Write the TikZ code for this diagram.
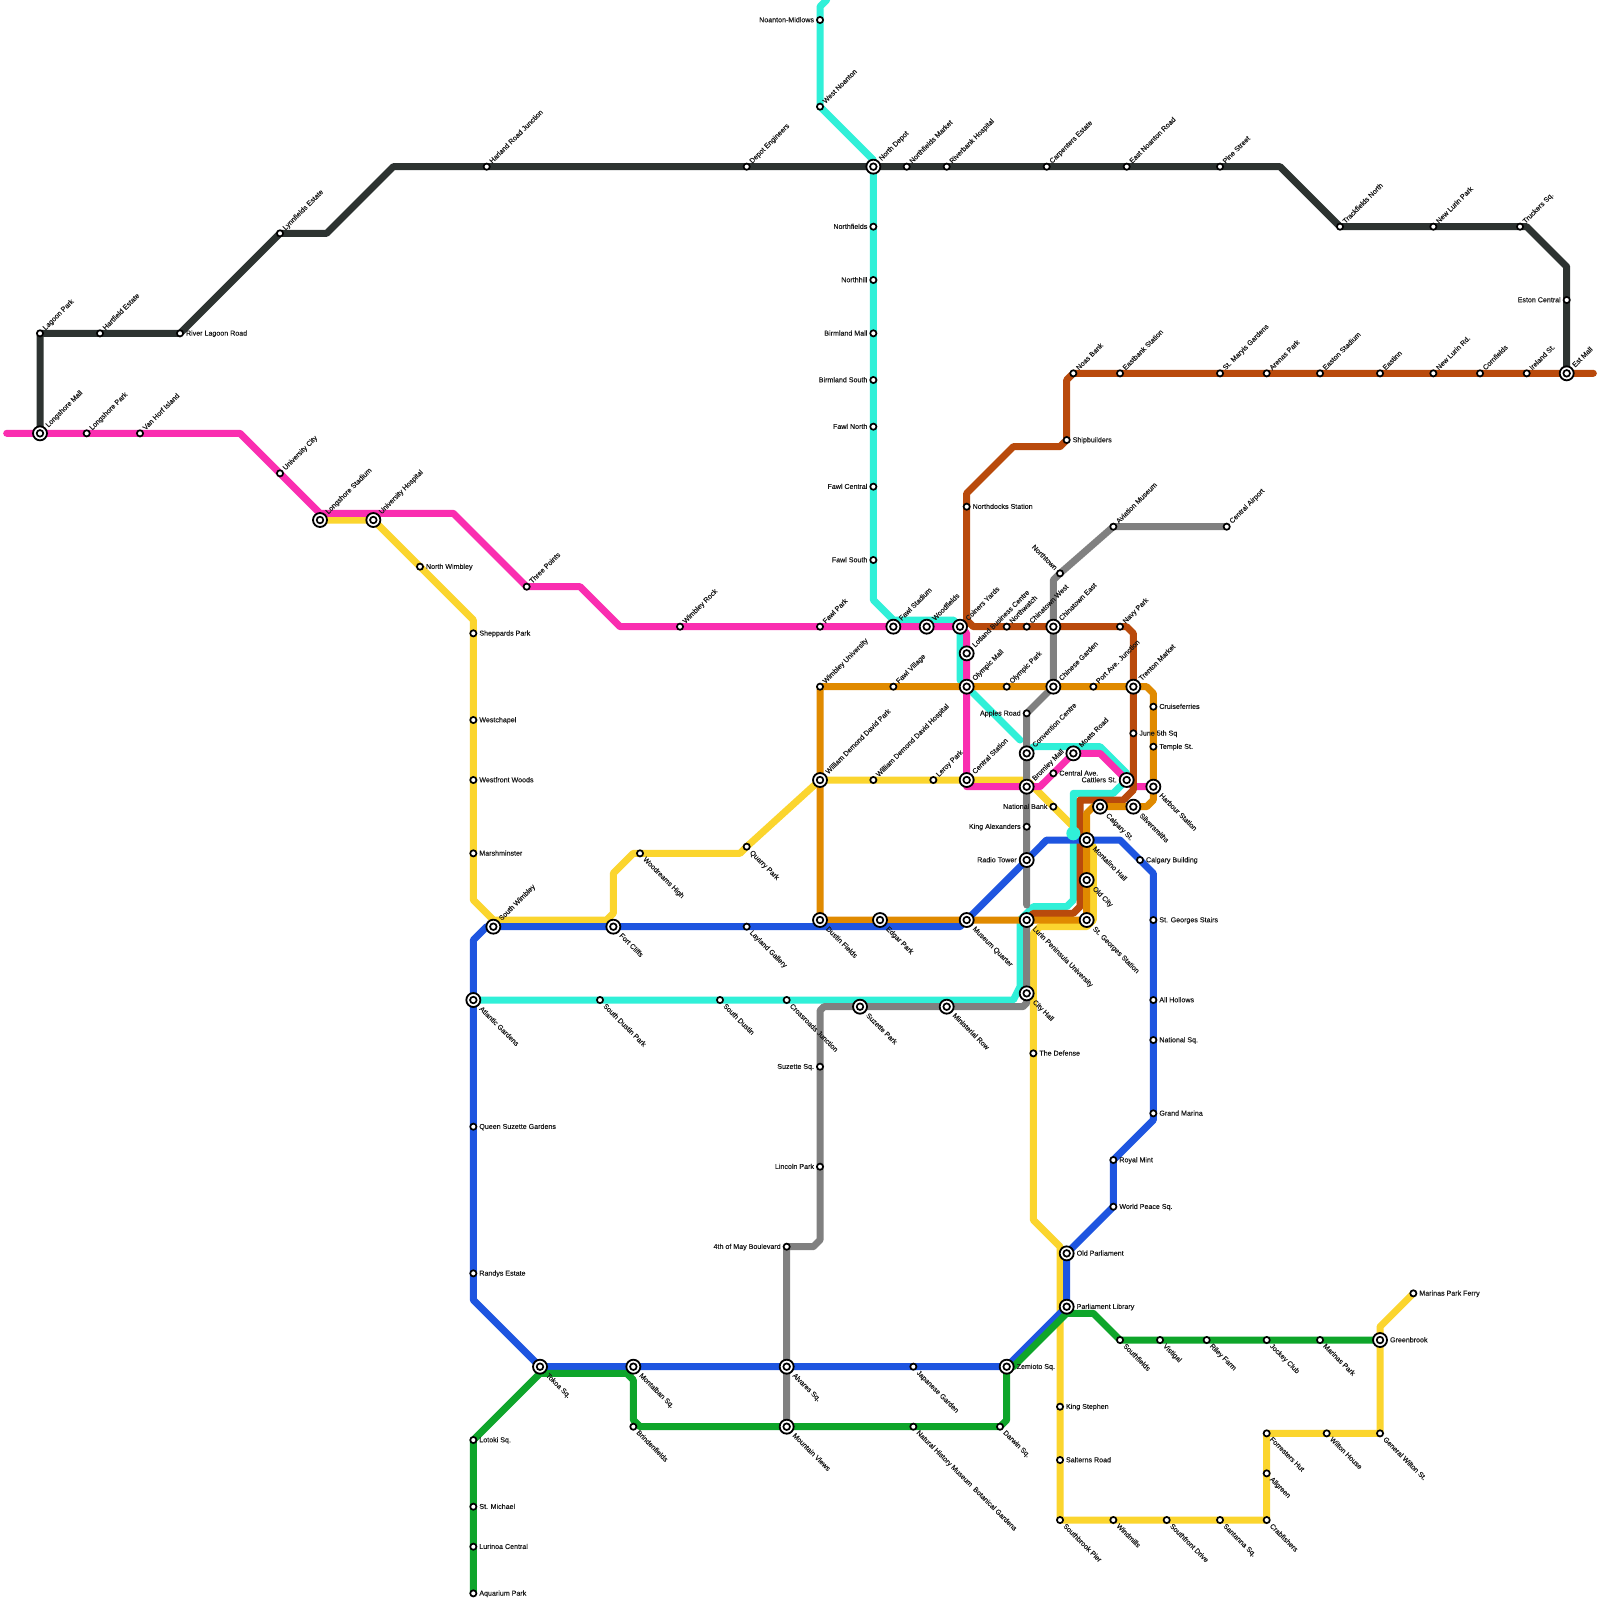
\documentclass[tikz,border=0pt]{standalone}
\usepackage{fontspec}
\setmainfont{Liberation Sans}
\newfontfamily\lblfont[FakeBold=0.15]{Liberation Sans}
\usetikzlibrary{backgrounds}
\definecolor{cBlack}{HTML}{2D3331}
\definecolor{cPink}{HTML}{FA2EB0}
\definecolor{cCyan}{HTML}{30F0D8}
\definecolor{cYellow}{HTML}{FBD52E}
\definecolor{cBlue}{HTML}{1E55E0}
\definecolor{cGreen}{HTML}{0EA52A}
\definecolor{cGrey}{HTML}{808080}
\definecolor{cOrange}{HTML}{E08A00}
\definecolor{cBrown}{HTML}{B94A0C}
\tikzset{
  smallst/.style={circle,draw=black,fill=white,line width=1.7pt,minimum size=6.2pt,inner sep=0pt,outer sep=0pt},
  bigst/.style={circle,draw=black,fill=white,line width=1.8pt,minimum size=14pt,inner sep=0pt,outer sep=0pt,
    path picture={\draw[black,line width=1.7pt] (path picture bounding box.center) circle (3.3pt);}},
  lbl/.style={font=\lblfont\fontsize{7.1}{8}\selectfont,text=black!90,inner sep=0pt,outer sep=0pt,text height=5.2pt,text depth=1.3pt},
  lblNE/.style={lbl,rotate=45,anchor=west,xshift=#1},
  lblSE/.style={lbl,rotate=-45,anchor=west,xshift=#1+0.6pt,yshift=-0.7pt},
  lblNW/.style={lbl,rotate=-45,anchor=east,xshift=-#1},
  lblR/.style={lbl,anchor=west,xshift=#1,yshift=-0.3pt},
  lblL/.style={lbl,anchor=east,xshift=-#1,yshift=-0.3pt},
  metro/.style={line width=7pt,line join=round,line cap=round},
  lBlack/.style={metro,cBlack},lPink/.style={metro,cPink},lCyan/.style={metro,cCyan},
  lYellow/.style={metro,cYellow},lBlue/.style={metro,cBlue},lGreen/.style={metro,cGreen},
  lGrey/.style={metro,cGrey},lOrange/.style={metro,cOrange},lBrown/.style={metro,cBrown}
}
\newcommand\snapxy[2]{\pgfmathsetmacro\snapx{round(#1*0.15)/0.15}\pgfmathsetmacro\snapy{round(#2*0.15)/0.15}}
\newcommand\sS[5]{\snapxy{#2}{#3}\node[smallst] (#1) at (\snapx,\snapy) {}; \node[lbl#4=6pt] (#1t) at (\snapx,\snapy) {#5};}
\newcommand\sI[5]{\snapxy{#2}{#3}\node[bigst] (#1) at (\snapx,\snapy) {}; \node[lbl#4=10pt] (#1t) at (\snapx,\snapy) {#5};}
\begin{document}
\begin{tikzpicture}[x=1pt,y=-1pt]
\useasboundingbox (0,0) rectangle (1600,1600);
% free line ends
\coordinate (pinkstart) at (6.67,433.33);
\coordinate (browndend) at (1593.33,373.33);
\coordinate (cyantop) at (826.67,0);
\coordinate (cyanhub) at (1073.33,833.33);
% black line
\sS{lagoon}{40}{333}{NE}{Lagoon Park}
\sS{hartfield}{100}{333}{NE}{Hartfield Estate}
\sS{riverlagoon}{180}{333}{R}{River Lagoon Road}
\sS{lynnfields}{280}{233}{NE}{Lynnfields Estate}
\sS{harland}{487}{166}{NE}{Harland Road Junction}
\sS{depot}{747}{166}{NE}{Depot Engineers}
\sI{northdepot}{873}{166}{NE}{North Depot}
\sS{northfieldsm}{907}{166}{NE}{Northfields Market}
\sS{riverbank}{947}{166}{NE}{Riverbank Hospital}
\sS{carpenters}{1047}{166}{NE}{Carpenters Estate}
\sS{eastnoanton}{1127}{166}{NE}{East Noanton Road}
\sS{pine}{1220}{166}{NE}{Pine Street}
\sS{trackfields}{1340}{226}{NE}{Trackfields North}
\sS{newlurinpark}{1433}{226}{NE}{New Lurin Park}
\sS{truckers}{1520}{226}{NE}{Truckers Sq.}
\sS{eston}{1567}{300}{L}{Eston Central}
\sI{estmall}{1567}{373}{NE}{Est Mall}
% pink line
\sI{longshoremall}{40}{433}{NE}{Longshore Mall}
\sS{longshorepark}{87}{433}{NE}{Longshore Park}
\sS{vanhorf}{140}{433}{NE}{Van Horf Island}
\sS{univcity}{280}{473}{NE}{University City}
\sI{longstadium}{320}{520}{NE}{Longshore Stadium}
\sI{univhosp}{373}{520}{NE}{University Hospital}
\sS{threepoints}{527}{587}{NE}{Three Points}
\sS{wimbleyrock}{680}{627}{NE}{Wimbley Rock}
\sS{fawlpark}{820}{627}{NE}{Fawl Park}
\sI{fawlstadium}{893}{627}{NE}{Fawl Stadium}
\sI{woodfields}{927}{627}{NE}{Woodfields}
\sI{coiners}{960}{627}{NE}{Coiners Yards}
\sI{lotland}{967}{653}{NE}{Lotland Business Centre}
\sI{olympicmall}{967}{687}{NE}{Olympic Mall}
\sI{central}{967}{780}{NE}{Central Station}
\sI{bromley}{1027}{787}{NE}{Bromley Mall}
\sI{moats}{1073}{753}{NE}{Moats Road}
\sS{centralave}{1053}{773}{R}{Central Ave.}
\sI{cattlers}{1127}{780}{L}{Cattlers St.}
\sI{harbour}{1153}{787}{SE}{Harbour Station}
% yellow line
\sS{northwimbley}{420}{567}{R}{North Wimbley}
\sS{sheppards}{473}{633}{R}{Sheppards Park}
\sS{westchapel}{473}{720}{R}{Westchapel}
\sS{westfront}{473}{780}{R}{Westfront Woods}
\sS{marshminster}{473}{853}{R}{Marshminster}
\sI{southwimbley}{493}{927}{NE}{South Wimbley}
\sI{fortcliffs}{613}{927}{SE}{Fort Cliffs}
\sS{woodreams}{640}{853}{SE}{Woodreams High}
\sS{quarry}{747}{847}{SE}{Quarry Park}
\sI{wdp}{820}{780}{NE}{William Demond David Park}
\sS{wdh}{873}{780}{NE}{William Demond David Hospital}
\sS{leroy}{933}{780}{NE}{Leroy Park}
\sS{nationalbank}{1053}{807}{L}{National Bank}
\sI{lurin}{1027}{920}{SE}{Lurin Peninsula University}
\sI{cityhall}{1027}{993}{SE}{City Hall}
\sS{defense}{1033}{1053}{R}{The Defense}
\sI{oldparl}{1067}{1253}{R}{Old Parliament}
\sI{parllib}{1067}{1307}{R}{Parliament Library}
\sS{kingstephen}{1060}{1407}{R}{King Stephen}
\sS{salterns}{1060}{1460}{R}{Salterns Road}
\sS{southbrook}{1060}{1520}{SE}{Southbrook Pier}
\sS{windmills}{1113}{1520}{SE}{Windmills}
\sS{southfront}{1167}{1520}{SE}{Southfront Drive}
\sS{santanna}{1220}{1520}{SE}{Santanna Sq.}
\sS{crabfishers}{1267}{1520}{SE}{Crabfishers}
\sS{allgreen}{1267}{1473}{SE}{Allgreen}
\sS{forresters}{1267}{1433}{SE}{Forresters Hut}
\sS{wiltonhouse}{1327}{1433}{SE}{Wilton House}
\sS{genwilton}{1380}{1433}{SE}{General Wilton St.}
\sI{greenbrook}{1380}{1340}{R}{Greenbrook}
\sS{marinasferry}{1413}{1293}{R}{Marinas Park Ferry}
% blue line
\sS{layland}{747}{927}{SE}{Layland Gallery}
\sI{dustin}{820}{920}{SE}{Dustin Fields}
\sI{edgar}{880}{920}{SE}{Edgar Park}
\sI{museum}{967}{920}{SE}{Museum Quarter}
\sI{radiotower}{1027}{860}{L}{Radio Tower}
\sI{montalino}{1087}{840}{SE}{Montalino Hall}
\sI{oldcity}{1087}{880}{SE}{Old City}
\sI{stgeorges}{1087}{920}{SE}{St. Georges Station}
\sS{calgarybuilding}{1140}{860}{R}{Calgary Building}
\sS{stairs}{1153}{920}{R}{St. Georges Stairs}
\sS{allhollows}{1153}{1000}{R}{All Hollows}
\sS{nationalsq}{1153}{1040}{R}{National Sq.}
\sS{grandmarina}{1153}{1113}{R}{Grand Marina}
\sS{royalmint}{1113}{1160}{R}{Royal Mint}
\sS{worldpeace}{1113}{1207}{R}{World Peace Sq.}
\sI{zemioto}{1007}{1367}{R}{Zemioto Sq.}
\sS{japanese}{913}{1367}{SE}{Japanese Garden}
\sI{alvares}{787}{1367}{SE}{Alvares Sq.}
\sI{montalban}{633}{1367}{SE}{Montalban Sq.}
\sI{tokoa}{540}{1367}{SE}{Tokoa Sq.}
\sS{randys}{473}{1273}{R}{Randys Estate}
\sS{queen}{473}{1127}{R}{Queen Suzette Gardens}
\sI{atlantic}{473}{1000}{SE}{Atlantic Gardens}
% cyan line
\sS{noanton}{820}{20}{L}{Noanton-Midlows}
\sS{westnoanton}{820}{107}{NE}{West Noanton}
\sS{northfields}{873}{227}{L}{Northfields}
\sS{northhill}{873}{280}{L}{Northhill}
\sS{birmlandmall}{873}{333}{L}{Birmland Mall}
\sS{birmlandsouth}{873}{380}{L}{Birmland South}
\sS{fawlnorth}{873}{427}{L}{Fawl North}
\sS{fawlcentral}{873}{487}{L}{Fawl Central}
\sS{fawlsouth}{873}{560}{L}{Fawl South}
\sI{convention}{1027}{753}{NE}{Convention Centre}
\sS{southdustinpark}{600}{1000}{SE}{South Dustin Park}
\sS{southdustin}{720}{1000}{SE}{South Dustin}
\sS{crossroads}{787}{1000}{SE}{Crossroads Junction}
% grey line
\sS{airport}{1227}{527}{NE}{Central Airport}
\sS{aviation}{1113}{527}{NE}{Aviation Museum}
\sS{northtown}{1060}{573}{NW}{Northtown}
\sI{chinatowneast}{1053}{627}{NE}{Chinatown East}
\sI{chinesegarden}{1053}{687}{NE}{Chinese Garden}
\sS{apples}{1027}{713}{L}{Apples Road}
\sS{kingalex}{1027}{827}{L}{King Alexanders}
\sI{ministerial}{947}{1007}{SE}{Ministerial Row}
\sI{suzettepark}{860}{1007}{SE}{Suzette Park}
\sS{suzettesq}{820}{1067}{L}{Suzette Sq.}
\sS{lincoln}{820}{1167}{L}{Lincoln Park}
\sS{mayfourth}{787}{1247}{L}{4th of May Boulevard}
\sI{mountain}{787}{1427}{SE}{Mountain Views}
% orange line
\sS{wimbleyuni}{820}{687}{NE}{Wimbley University}
\sS{fawlvillage}{893}{687}{NE}{Fawl Village}
\sS{olympicpark}{1007}{687}{NE}{Olympic Park}
\sS{portave}{1093}{687}{NE}{Port Ave. Junction}
\sI{trenton}{1133}{687}{NE}{Trenton Market}
\sS{cruiseferries}{1153}{707}{R}{Cruiseferries}
\sS{temple}{1153}{747}{R}{Temple St.}
\sI{silversmiths}{1133}{807}{SE}{Silversmiths}
\sI{calgaryst}{1100}{807}{SE}{Calgary St.}
% brown line
\sS{ireland}{1527}{373}{NE}{Ireland St.}
\sS{cornfields}{1480}{373}{NE}{Cornfields}
\sS{newlurinrd}{1433}{373}{NE}{New Lurin Rd.}
\sS{eastinn}{1380}{373}{NE}{Eastinn}
\sS{eastonstadium}{1320}{373}{NE}{Easton Stadium}
\sS{arenas}{1267}{373}{NE}{Arenas Park}
\sS{stmaryis}{1220}{373}{NE}{St. Maryis Gardens}
\sS{eastbank}{1120}{373}{NE}{Eastbank Station}
\sS{noas}{1073}{373}{NE}{Noas Bank}
\sS{shipbuilders}{1067}{440}{R}{Shipbuilders}
\sS{northdocks}{967}{507}{R}{Northdocks Station}
\sS{northwatch}{1007}{627}{NE}{Northwatch}
\sS{chinatownwest}{1027}{627}{NE}{Chinatown West}
\sS{navy}{1120}{627}{NE}{Navy Park}
\sS{june}{1133}{733}{R}{June 5th Sq}
% green line
\sS{aquarium}{473}{1593}{R}{Aquarium Park}
\sS{lurinoa}{473}{1547}{R}{Lurinoa Central}
\sS{stmichael}{473}{1507}{R}{St. Michael}
\sS{lotoki}{473}{1440}{R}{Lotoki Sq.}
\sS{brinden}{633}{1427}{SE}{Brindenfields}
\sS{natural}{913}{1427}{SE}{Natural History Museum\ \ Botanical Gardens}
\sS{darwin}{1000}{1427}{SE}{Darwin Sq.}
\sS{southfields}{1120}{1340}{SE}{Southfields}
\sS{vistigal}{1160}{1340}{SE}{Vistigal}
\sS{riley}{1207}{1340}{SE}{Riley Farm}
\sS{jockey}{1267}{1340}{SE}{Jockey Club}
\sS{marinaspark}{1320}{1340}{SE}{Marinas Park}
\begin{scope}[on background layer]
\fill[white] (0,0) rectangle (1600,1600);
\draw[lBlack] (longshoremall.center) -- (lagoon.center) -- (hartfield.center) -- (riverlagoon.center) -- (lynnfields.center) -- (326.67,233.33) -- (393.33,166.67) -- (harland.center) -- (depot.center) -- (northdepot.center) -- (northfieldsm.center) -- (riverbank.center) -- (carpenters.center) -- (eastnoanton.center) -- (pine.center) -- (1280,166.67) -- (trackfields.center) -- (newlurinpark.center) -- (truckers.center) -- (1526.67,226.67) -- (1566.67,266.67) -- (eston.center) -- (estmall.center);
\draw[lYellow] (longstadium.center) -- (univhosp.center) -- (northwimbley.center) -- (473.33,620) -- (sheppards.center) -- (westchapel.center) -- (westfront.center) -- (marshminster.center) -- (473.33,900) -- (493.33,920) -- (606.67,920) -- (613.33,913.33) -- (613.33,873.33) -- (633.33,853.33) -- (woodreams.center) -- (740,853.33) -- (quarry.center) -- (wdp.center) -- (wdh.center) -- (leroy.center) -- (central.center) -- (1026.67,780) -- (1040,793.33) -- (nationalbank.center) -- (montalino.center) -- (1093.33,846.67) -- (1093.33,920) -- (1086.67,926.67) -- (1040,926.67) -- (1033.33,933.33) -- (defense.center) -- (1033.33,1220) -- (1060,1246.67) -- (1060,1300) -- (kingstephen.center) -- (salterns.center) -- (southbrook.center) -- (windmills.center) -- (southfront.center) -- (santanna.center) -- (crabfishers.center) -- (allgreen.center) -- (forresters.center) -- (wiltonhouse.center) -- (genwilton.center) -- (greenbrook.center) -- (1380,1326.67) -- (marinasferry.center);
\draw[lCyan] (cyantop) -- (820,6.67) -- (noanton.center) -- (westnoanton.center) -- (873.33,160) -- (northfields.center) -- (northhill.center) -- (birmlandmall.center) -- (birmlandsouth.center) -- (fawlnorth.center) -- (fawlcentral.center) -- (fawlsouth.center) -- (873.33,600) -- (893.33,620) -- (953.33,620) -- (960,626.67) -- (960,680) -- (olympicmall.center) -- (1020,740);
\draw[lCyan] (convention.center) -- (1033.33,746.67) -- (1100,746.67) -- (1126.67,773.33) -- (cattlers.center) -- (1113.33,793.33) -- (1073.33,793.33) -- (1073.33,900) -- (1066.67,906.67) -- (1033.33,906.67) -- (1020,920) -- (1020,986.67) -- (1013.33,1000) -- (atlantic.center);
\draw[lPink] (pinkstart) -- (longshoremall.center) -- (longshorepark.center) -- (vanhorf.center) -- (240,433.33) -- (univcity.center) -- (320,513.33) -- (453.33,513.33) -- (threepoints.center) -- (580,586.67) -- (620,626.67) -- (wimbleyrock.center) -- (fawlpark.center) -- (fawlstadium.center) -- (woodfields.center) -- (coiners.center) -- (966.67,633.33) -- (lotland.center) -- (olympicmall.center) -- (966.67,786.67) -- (bromley.center) -- (1040,786.67) -- (centralave.center) -- (moats.center) -- (1100,753.33) -- (1133.33,786.67) -- (harbour.center);
\draw[lGrey] (airport.center) -- (aviation.center) -- (northtown.center) -- (1053.33,580) -- (chinatowneast.center) -- (chinesegarden.center) -- (apples.center) -- (convention.center) -- (bromley.center) -- (kingalex.center) -- (radiotower.center) -- (1026.67,905);
\draw[lGrey] (lurin.center) -- (cityhall.center) -- (1026.67,1003) -- (1023,1006.67) -- (ministerial.center) -- (suzettepark.center) -- (824,1006.67) -- (820,1010.67) -- (suzettesq.center) -- (lincoln.center) -- (820,1240) -- (813.33,1246.67) -- (mayfourth.center) -- (alvares.center) -- (mountain.center);
\draw[lBrown] (browndend) -- (estmall.center) -- (ireland.center) -- (cornfields.center) -- (newlurinrd.center) -- (eastinn.center) -- (eastonstadium.center) -- (arenas.center) -- (stmaryis.center) -- (eastbank.center) -- (noas.center) -- (1066.67,380) -- (shipbuilders.center) -- (1060,446.67) -- (1013.33,446.67) -- (966.67,493.33) -- (northdocks.center) -- (966.67,620) -- (973.33,626.67) -- (northwatch.center) -- (chinatownwest.center) -- (chinatowneast.center) -- (navy.center) -- (1126.67,626.67) -- (1133.33,633.33) -- (trenton.center) -- (june.center) -- (1133.33,790) -- (1123.33,800) -- (1080,800) -- (1080,906.67) -- (1073.33,913.33) -- (1033.33,913.33) -- (lurin.center);
\draw[lOrange] (wdp.center) -- (wimbleyuni.center) -- (fawlvillage.center) -- (olympicmall.center) -- (olympicpark.center) -- (chinesegarden.center) -- (portave.center) -- (trenton.center) -- (1146.67,686.67) -- (1153.33,693.33) -- (cruiseferries.center) -- (temple.center) -- (harbour.center) -- (1153.33,800) -- (1146.67,806.67) -- (silversmiths.center) -- (calgaryst.center) -- (1093.33,806.67) -- (1086.67,813.33) -- (montalino.center) -- (oldcity.center) -- (stgeorges.center) -- (lurin.center) -- (museum.center) -- (edgar.center) -- (dustin.center) -- (wdp.center);
\draw[lBlue] (atlantic.center) -- (473.33,940) -- (486.67,926.67) -- (southwimbley.center) -- (fortcliffs.center) -- (layland.center) -- (960,926.67) -- (museum.center) -- (radiotower.center) -- (1046.67,840) -- (montalino.center) -- (1120,840) -- (calgarybuilding.center) -- (1153.33,873.33) -- (stairs.center) -- (allhollows.center) -- (nationalsq.center) -- (grandmarina.center) -- (1153.33,1120) -- (royalmint.center) -- (worldpeace.center) -- (oldparl.center) -- (parllib.center) -- (zemioto.center) -- (japanese.center) -- (alvares.center) -- (montalban.center) -- (tokoa.center) -- (473.33,1300) -- (randys.center) -- (queen.center) -- (atlantic.center);
\draw[lGreen] (aquarium.center) -- (lurinoa.center) -- (stmichael.center) -- (lotoki.center) -- (540,1373.33) -- (626.67,1373.33) -- (633.33,1380) -- (633.33,1420) -- (640,1426.67) -- (mountain.center) -- (natural.center) -- (darwin.center) -- (1006.67,1420) -- (zemioto.center) -- (1013.33,1366.67) -- (1066.67,1313.33) -- (1093.33,1313.33) -- (southfields.center) -- (vistigal.center) -- (riley.center) -- (jockey.center) -- (marinaspark.center) -- (greenbrook.center);
\fill[cCyan] (cyanhub) circle (7pt);
\end{scope}
\end{tikzpicture}
\end{document}
